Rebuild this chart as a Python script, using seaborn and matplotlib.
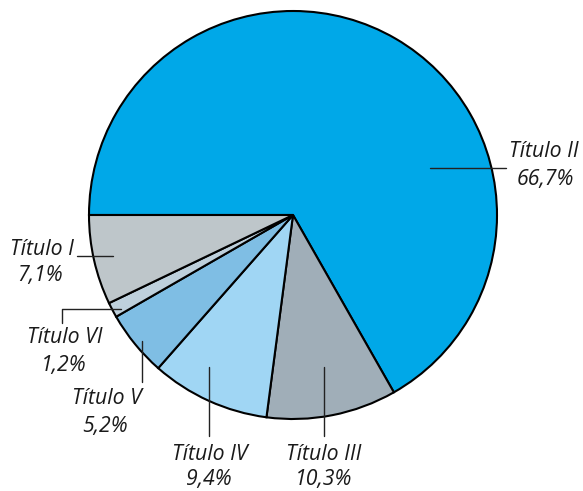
import matplotlib
matplotlib.use("Agg")
import matplotlib.pyplot as plt
import seaborn as sns

# Data
categories = ["Título II", "Título III", "Título IV", "Título V", "Título VI", "Título I"]
values = [66.7, 10.3, 9.4, 5.2, 1.2, 7.1]
value_labels = ["66,7%", "10,3%", "9,4%", "5,2%", "1,2%", "7,1%"]
colors = ["#00A8E8", "#A0AEB8", "#A0D6F4", "#7FBEE4", "#BED0DC", "#BEC6CA"]

sns.set_theme(style="white")
plt.rcParams["font.family"] = ["Open Sans", "DejaVu Sans"]

W, H = 583, 491
fig = plt.figure(figsize=(W / 100, H / 100), dpi=100)
ax = fig.add_axes([0, 0, 1, 1])

def Y(y):
    return H - y

cx, cy, r = 293, 215, 204
ax.pie(values, colors=colors, startangle=180, counterclock=False,
       center=(cx, Y(cy)), radius=r,
       wedgeprops=dict(edgecolor="black", linewidth=1.5))
ax.set_xlim(0, W)
ax.set_ylim(0, H)
ax.set_aspect("equal")
ax.axis("off")

# Layout for labels: leader line polyline (pixels), title (x, baseline, ha), value (x, baseline)
layout = {
    "Título II": dict(line=[(430, 168), (506, 168)], title=(509, 157, "left"), val=(545, 185)),
    "Título I": dict(line=[(113, 256), (77, 256)], title=(42, 255, "center"), val=(40, 281)),
    "Título VI": dict(line=[(121, 309), (62, 309), (62, 323)], title=(65, 343, "center"), val=(64, 371)),
    "Título V": dict(line=[(142, 341), (142, 382)], title=(107, 404, "center"), val=(105, 432)),
    "Título IV": dict(line=[(209, 367), (209, 436)], title=(210, 460, "center"), val=(209, 485)),
    "Título III": dict(line=[(324, 367), (324, 436)], title=(324, 460, "center"), val=(324, 485)),
}
fs = 15.3
for cat, lab in zip(categories, value_labels):
    L = layout[cat]
    xs = [p[0] for p in L["line"]]
    ys = [Y(p[1]) for p in L["line"]]
    ax.plot(xs, ys, color="#222222", linewidth=1.0)
    tx, ty, tha = L["title"]
    ax.text(tx, Y(ty), cat, ha=tha, va="baseline", fontsize=fs,
            style="italic", color="#1a1a1a")
    vx, vy = L["val"]
    ax.text(vx, Y(vy), lab, ha="center", va="baseline", fontsize=fs,
            style="italic", color="#1a1a1a")

fig.savefig("out.png", dpi=100)
